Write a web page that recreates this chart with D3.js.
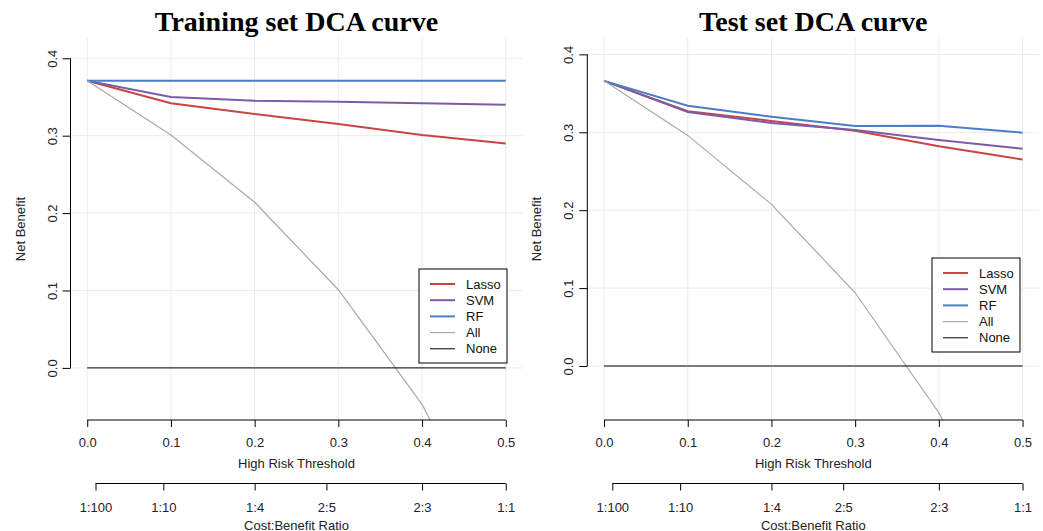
<!DOCTYPE html>
<meta charset="utf-8">
<style>
body { margin: 0; background: #fff; }
svg { display: block; font-family: "Liberation Sans", Arial, sans-serif; }
.grid line { stroke: #ebebeb; stroke-width: 1px; }
.title { font-family: "Liberation Serif", "Times New Roman", serif; font-weight: bold; font-size: 28px; }
.tick text, .lab { font-size: 13px; fill: #222; }
.legend text { font-size: 13px; fill: #111; }
</style>
<svg width="1043" height="531"></svg>
<script src="https://cdn.jsdelivr.net/npm/d3@7"></script>
<script>

// thresholds and cost:benefit labels
const thresholds = [0, 0.1, 0.2, 0.3, 0.4, 0.5];
const yTicks = [0, 0.1, 0.2, 0.3, 0.4];
const costLabels = ["1:100", "1:10", "1:4", "2:5", "2:3", "1:1"];

// training set net benefit
const trainLasso = [0.371, 0.342, 0.328, 0.315, 0.301, 0.290];
const trainSVM   = [0.371, 0.350, 0.345, 0.344, 0.342, 0.340];
const trainRF    = [0.371, 0.371, 0.371, 0.371, 0.371, 0.371];
const trainAll   = [0.371, 0.301, 0.214, 0.101, -0.047, -0.258];

// test set net benefit
const testLasso = [0.366, 0.327, 0.3145, 0.302, 0.282, 0.265];
const testSVM   = [0.366, 0.326, 0.312, 0.303, 0.290, 0.279];
const testRF    = [0.366, 0.334, 0.320, 0.308, 0.3085, 0.2995];
const testAll   = [0.366, 0.296, 0.2075, 0.094, -0.060, -0.268];

const noneValues = [0, 0, 0, 0, 0, 0];

const seriesNames = ["Lasso", "SVM", "RF", "All", "None"];
const colours = {"Lasso": "#c94545", "SVM": "#7c5ca8", "RF": "#4a7ec8", "All": "#a8a8a8", "None": "#000000"};
const widths = {"Lasso": 2, "SVM": 2, "RF": 2, "All": 1.2, "None": 1};

const panels = [
  {title: "Training set DCA curve", left: 70.5, ydom: [-0.0673, 0.4262], legX: 419, legY: 269,
   values: {"Lasso": trainLasso, "SVM": trainSVM, "RF": trainRF, "All": trainAll, "None": noneValues}},
  {title: "Test set DCA curve", left: 587.3, ydom: [-0.0693, 0.4210], legX: 932, legY: 258,
   values: {"Lasso": testLasso, "SVM": testSVM, "RF": testRF, "All": testAll, "None": noneValues}}
];

const plotW = 452, plotTop = 38, plotBottom = 420;
const svg = d3.select("svg");

function ratioToThreshold(s) {
  var p = s.split(":").map(Number);
  return p[0] / (p[0] + p[1]);
}

panels.forEach(function(p, i) {
  var g = svg.append("g");
  var x = d3.scaleLinear().domain([-0.02, 0.52]).range([p.left, p.left + plotW]);
  var y = d3.scaleLinear().domain(p.ydom).range([plotBottom, plotTop]);

  var clipId = "clip" + i;
  svg.append("clipPath").attr("id", clipId).append("rect")
    .attr("x", p.left).attr("y", plotTop).attr("width", plotW).attr("height", plotBottom - plotTop);

  // grid
  var grid = g.append("g").attr("class", "grid");
  grid.selectAll(".v").data(thresholds).enter().append("line")
    .attr("x1", function(d) { return x(d); }).attr("x2", function(d) { return x(d); })
    .attr("y1", plotTop).attr("y2", plotBottom);
  grid.selectAll(".h").data(yTicks).enter().append("line")
    .attr("x1", p.left).attr("x2", p.left + plotW)
    .attr("y1", function(d) { return y(d); }).attr("y2", function(d) { return y(d); });

  // curves
  var line = d3.line().x(function(d, j) { return x(thresholds[j]); }).y(function(d) { return y(d); });
  g.append("g").attr("clip-path", "url(#" + clipId + ")")
    .selectAll("path").data(seriesNames).enter().append("path")
    .attr("d", function(n) { return line(p.values[n]); })
    .attr("fill", "none")
    .attr("stroke", function(n) { return colours[n]; })
    .attr("stroke-width", function(n) { return widths[n]; });

  // x axis (threshold)
  var xa = g.append("g").attr("transform", "translate(0," + plotBottom + ")")
    .call(d3.axisBottom(x).tickValues(thresholds).tickFormat(d3.format(".1f")).tickSize(7).tickPadding(11).tickSizeOuter(0));
  xa.select(".domain").remove();
  xa.append("line").attr("x1", x(0)).attr("x2", x(0.5)).attr("stroke", "#000");

  g.append("text").attr("class", "lab").attr("text-anchor", "middle")
    .attr("x", x(0.25)).attr("y", 467.5).text("High Risk Threshold");

  // cost:benefit axis
  var costVals = costLabels.map(ratioToThreshold);
  var ca = g.append("g").attr("transform", "translate(0,483.5)")
    .call(d3.axisBottom(x).tickValues(costVals).tickFormat(function(d, j) { return costLabels[j]; })
      .tickSize(7).tickPadding(12).tickSizeOuter(0));
  ca.select(".domain").remove();
  ca.append("line").attr("x1", x(costVals[0])).attr("x2", x(costVals[costVals.length - 1])).attr("stroke", "#000");

  g.append("text").attr("class", "lab").attr("text-anchor", "middle")
    .attr("x", x(0.25)).attr("y", 529.5).text("Cost:Benefit Ratio");

  // y axis
  var ya = g.append("g").attr("transform", "translate(" + p.left + ",0)")
    .call(d3.axisLeft(y).tickValues(yTicks).tickFormat(d3.format(".1f")).tickSize(8).tickSizeOuter(0));
  ya.select(".domain").remove();
  ya.append("line").attr("y1", y(0)).attr("y2", y(0.4)).attr("stroke", "#000");
  ya.selectAll(".tick text")
    .attr("x", null).attr("dy", null)
    .attr("text-anchor", "middle")
    .attr("transform", "translate(-14,0) rotate(-90)");

  g.append("text").attr("class", "lab").attr("text-anchor", "middle")
    .attr("transform", "translate(" + (p.left - 46) + "," + ((plotTop + plotBottom) / 2) + ") rotate(-90)")
    .text("Net Benefit");

  // title
  g.append("text").attr("class", "title").attr("text-anchor", "middle")
    .attr("x", p.left + plotW / 2).attr("y", 31).text(p.title);

  // legend
  var leg = g.append("g").attr("class", "legend").attr("transform", "translate(" + p.legX + "," + p.legY + ")");
  leg.append("rect").attr("width", 88).attr("height", 94).attr("fill", "#fff").attr("stroke", "#000");
  var rows = leg.selectAll(".row").data(seriesNames).enter().append("g")
    .attr("transform", function(d, j) { return "translate(0," + (15 + j * 16.2) + ")"; });
  rows.append("line").attr("x1", 11).attr("x2", 36)
    .attr("stroke", function(n) { return colours[n]; })
    .attr("stroke-width", function(n) { return widths[n]; });
  rows.append("text").attr("x", 47).attr("dy", "0.35em").text(function(n) { return n; });
});
</script>
